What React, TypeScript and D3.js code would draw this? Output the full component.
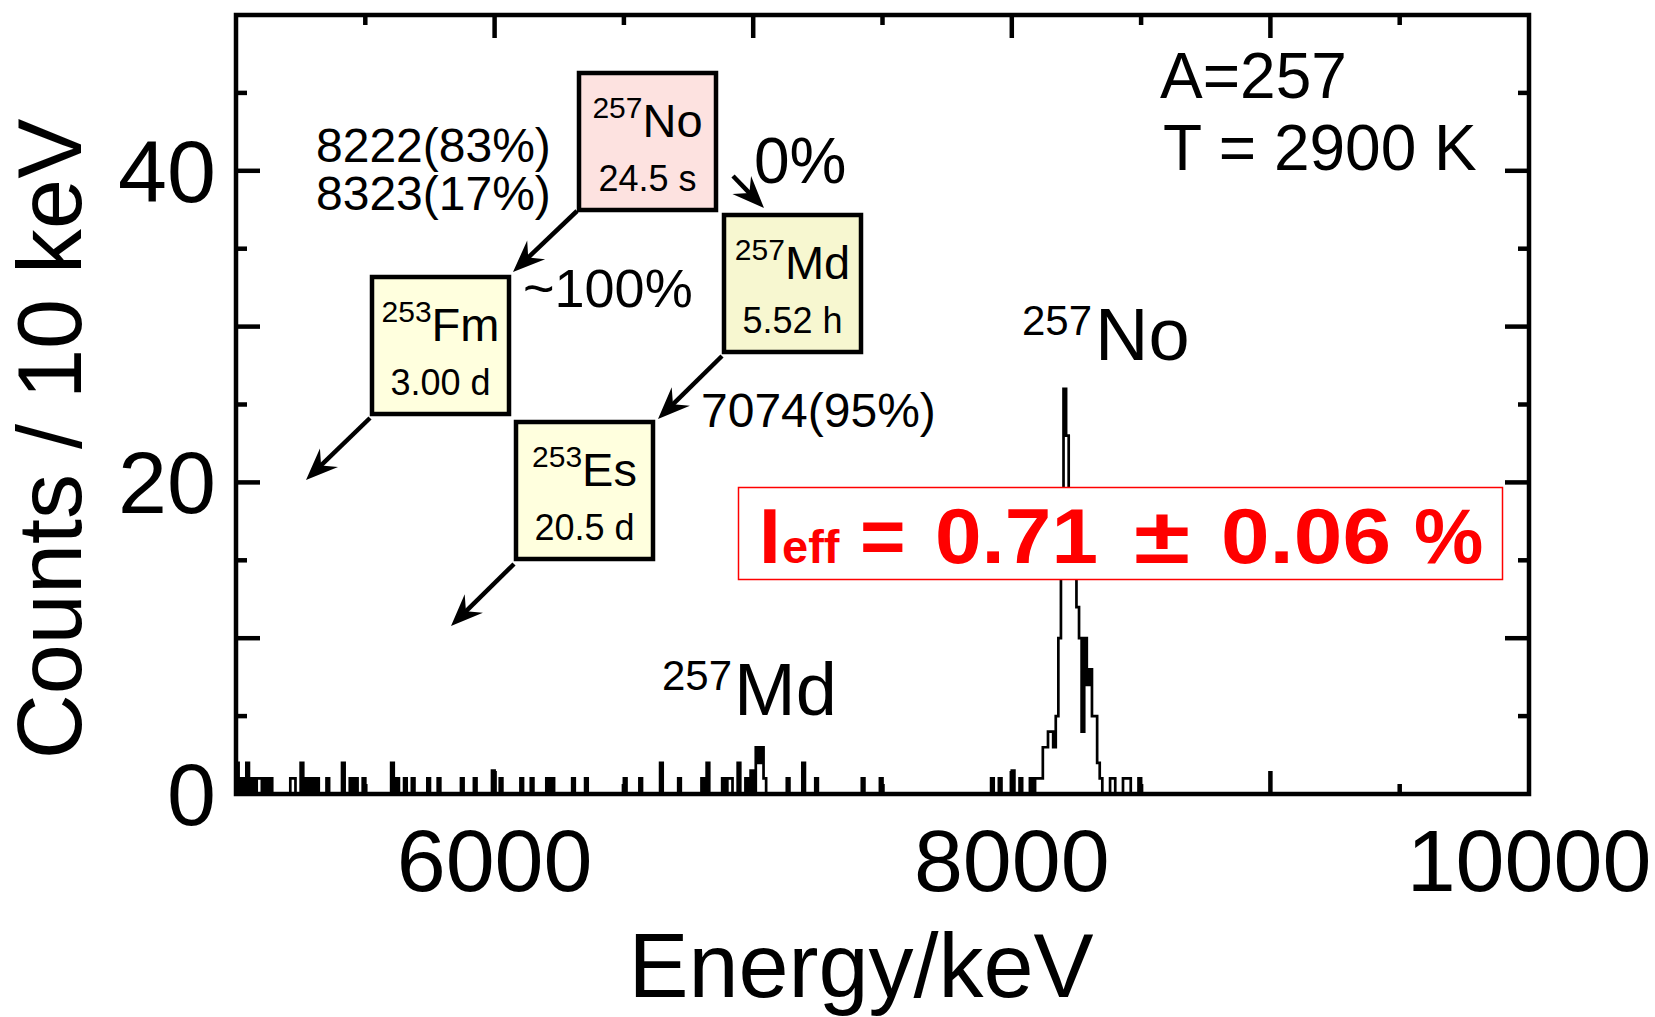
import * as d3 from "d3";

// alpha spectrum, 10 keV bins: lower bin edge (keV) and counts
const binStart = [
  5000, 5020, 5040, 5060, 5080, 5090, 5110, 5130, 5210, 5220, 5250, 5270, 5290, 5310, 5350,
  5410, 5440, 5460, 5490, 5600, 5620, 5650, 5680, 5740, 5780, 5870, 5920, 5990, 6020, 6100,
  6140, 6200, 6220, 6300, 6350, 6500, 6560, 6640, 6710, 6800, 6820, 6880, 6900, 6910, 6940,
  6970, 6990, 7010, 7020, 7030, 7040, 7130, 7190, 7240, 7420, 7490, 7920, 7950, 8000, 8030,
  8070, 8090, 8100, 8110, 8120, 8130, 8140, 8150, 8160, 8170, 8180, 8190, 8200, 8210, 8220,
  8230, 8240, 8250, 8260, 8270, 8280, 8290, 8300, 8310, 8320, 8330, 8340, 8380, 8390, 8430,
  8440, 8450, 8490,
];
const binCounts = [
  2, 1, 2, 1, 1, 1, 1, 1, 1, 1, 2, 1, 1, 1, 1,
  2, 1, 1, 1, 2, 1, 1, 1, 1, 1, 1, 1, 1.5, 1, 1,
  1, 1, 1, 1, 1, 1, 1, 2, 1, 1, 2, 1, 1, 1, 2,
  1, 1.5, 3, 2, 3, 1, 1, 2, 1, 1, 1, 1, 1, 1.5, 1,
  1, 1, 1, 1, 3, 3, 4, 4, 3, 5, 10, 18, 26, 23, 18,
  16, 15, 12, 10, 4, 10, 7, 8, 5, 5, 2, 1, 1, 1, 1,
  1, 1, 1,
];

const xTicks = [5500, 6000, 6500, 7000, 7500, 8000, 8500, 9000, 9500];
const xTickLabels = [6000, 8000, 10000];
const yTicks = [5, 10, 15, 20, 25, 30, 35, 40, 45];
const yTickLabels = [0, 20, 40];

// decay scheme
const nuclides = ["No", "Md", "Fm", "Es"];
const massNumbers = ["257", "257", "253", "253"];
const halfLives = ["24.5 s", "5.52 h", "3.00 d", "20.5 d"];

const FONT = "'Liberation Sans', Arial, sans-serif";

export default function App() {
  const W = 1655;
  const H = 1017;
  const left = 236, right = 1529, top = 15, bottom = 794;

  const x = d3.scaleLinear().domain([5000, 10000]).range([left, right]);
  const y = d3.scaleLinear().domain([0, 50]).range([bottom, top]);

  const countByBin = new Map(binStart.map((e, i) => [e, binCounts[i]]));
  const grid: [number, number][] = d3.range(5000, 8560, 10).map((e) => [e, countByBin.get(e) ?? 0]);
  grid.push([8560, 0]);
  const line = d3
    .line<[number, number]>()
    .x((d) => x(d[0]))
    .y((d) => y(d[1]))
    .curve(d3.curveStepAfter);

  // box layout (top-left corners, px)
  const boxPos = [
    { bx: 577, by: 71, fill: "#fde2e0" },
    { bx: 722, by: 213, fill: "#f7f7d0" },
    { bx: 370, by: 275, fill: "#ffffde" },
    { bx: 514, by: 420, fill: "#ffffde" },
  ];
  const boxSize = 141;

  const arrows = [
    [577, 211, 513, 272],
    [733, 176, 764, 208],
    [722, 356, 658, 419],
    [370, 418, 306, 480],
    [514, 564, 451, 626],
  ];

  const arrowHead = (x1: number, y1: number, x2: number, y2: number) => {
    const a = Math.atan2(y2 - y1, x2 - x1);
    const L = 32, w = 13, n = 21;
    const p = (d: number, s: number) =>
      [x2 - d * Math.cos(a) - s * Math.sin(a), y2 - d * Math.sin(a) + s * Math.cos(a)].join(",");
    return {
      head: `M${x2},${y2}L${p(L, w)}L${p(n, 0)}L${p(L, -w)}Z`,
      end: [x2 - 18 * Math.cos(a), y2 - 18 * Math.sin(a)],
    };
  };

  return (
    <svg
      width={W}
      height={H}
      style={{ position: "absolute", left: 0, top: 0, background: "#fff" }}
      fontFamily={FONT}
    >
      {/* spectrum */}
      <path d={line(grid) ?? ""} fill="none" stroke="#000" strokeWidth={2.7} strokeLinejoin="miter" />

      {/* ticks */}
      {xTicks.map((t) => {
        const len = t % 1000 === 0 ? 23 : 10;
        return (
          <g key={"xt" + t} stroke="#000" strokeWidth={4.5}>
            <line x1={x(t)} x2={x(t)} y1={bottom} y2={bottom - len} />
            <line x1={x(t)} x2={x(t)} y1={top} y2={top + len} />
          </g>
        );
      })}
      {yTicks.map((t) => {
        const len = t % 10 === 0 ? 24 : 11;
        return (
          <g key={"yt" + t} stroke="#000" strokeWidth={4.5}>
            <line x1={left} x2={left + len} y1={y(t)} y2={y(t)} />
            <line x1={right} x2={right - len} y1={y(t)} y2={y(t)} />
          </g>
        );
      })}
      <rect x={left} y={top} width={right - left} height={bottom - top} fill="none" stroke="#000" strokeWidth={4.5} />

      {/* tick labels */}
      {xTickLabels.map((t) => (
        <text key={"xl" + t} x={x(t)} y={bottom + 97} fontSize={88} textAnchor="middle">
          {t}
        </text>
      ))}
      {yTickLabels.map((t) => (
        <text key={"yl" + t} x={left - 20} y={y(t) + 31} fontSize={88} textAnchor="end">
          {t}
        </text>
      ))}

      {/* axis titles */}
      <text x={861} y={997} fontSize={90} textAnchor="middle">
        Energy/keV
      </text>
      <text transform="translate(81,439) rotate(-90)" fontSize={90} textAnchor="middle">
        Counts / 10 keV
      </text>

      {/* peak labels */}
      <text x={1022} y={335} fontSize={42}>257</text>
      <text x={1095} y={360} fontSize={74}>No</text>
      <text x={662} y={690} fontSize={42}>257</text>
      <text x={734} y={715} fontSize={74}>Md</text>

      {/* conditions */}
      <text x={1160} y={98} fontSize={64}>A=257</text>
      <text x={1163} y={170} fontSize={64}>T = 2900 K</text>

      {/* decay scheme */}
      {arrows.map(([x1, y1, x2, y2], i) => {
        const { head, end } = arrowHead(x1, y1, x2, y2);
        return (
          <g key={"ar" + i}>
            <line x1={x1} y1={y1} x2={end[0]} y2={end[1]} stroke="#000" strokeWidth={4.5} />
            <path d={head} fill="#000" />
          </g>
        );
      })}
      {boxPos.map((b, i) => (
        <g key={"box" + i}>
          <rect x={b.bx + 2} y={b.by + 2} width={boxSize - 4} height={boxSize - 4} fill={b.fill} stroke="#000" strokeWidth={4.5} />
          <text x={b.bx + boxSize / 2} y={b.by + 66} textAnchor="middle">
            <tspan fontSize={30} dy={-19}>{massNumbers[i]}</tspan>
            <tspan fontSize={47} dy={19}>{nuclides[i]}</tspan>
          </text>
          <text x={b.bx + boxSize / 2} y={b.by + 120} textAnchor="middle" fontSize={36}>
            {halfLives[i]}
          </text>
        </g>
      ))}
      <text x={316} y={162} fontSize={48}>8222(83%)</text>
      <text x={316} y={210} fontSize={48}>8323(17%)</text>
      <text x={754} y={183} fontSize={64}>0%</text>
      <text x={523} y={307} fontSize={54}>~100%</text>
      <text x={701} y={427} fontSize={48}>7074(95%)</text>

      {/* effective intensity */}
      <rect x={738.5} y={487.5} width={764} height={92} fill="#fff" stroke="#ff0000" strokeWidth={1.5} />
      <g fill="#ff0000" fontWeight="bold">
        <text x={759} y={563} fontSize={78}>I</text>
        <text x={782} y={563} fontSize={47}>eff</text>
        <text x={860} y={563} fontSize={78}>=</text>
        <text x={935} y={563} fontSize={78} textLength={163} lengthAdjust="spacingAndGlyphs">0.71</text>
        <text x={1134} y={563} fontSize={78} textLength={56} lengthAdjust="spacingAndGlyphs">±</text>
        <text x={1221} y={563} fontSize={78} textLength={170} lengthAdjust="spacingAndGlyphs">0.06</text>
        <text x={1414} y={563} fontSize={78}>%</text>
      </g>
    </svg>
  );
}
